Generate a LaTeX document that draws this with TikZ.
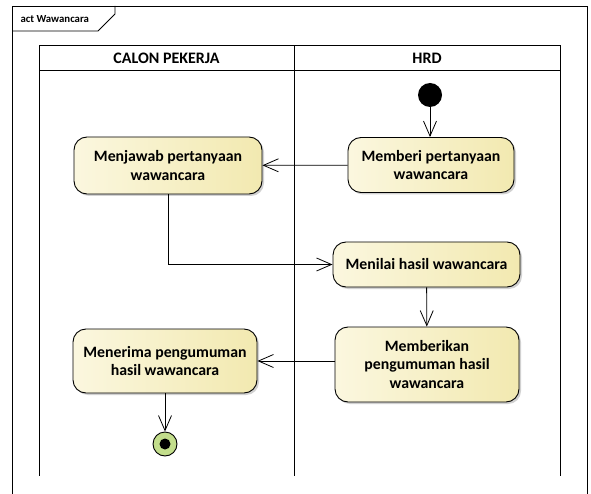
\documentclass[tikz,border=0pt]{standalone}
\usepackage{fontspec}
\setmainfont{Carlito}
\usetikzlibrary{arrows.meta,shadows}
\definecolor{actleft}{HTML}{FBF7DF}
\definecolor{actright}{HTML}{F2E9B0}
\definecolor{finalgreen}{HTML}{C3DE8C}
\tikzset{
  actbox/.style={draw=black, line width=0.9pt, rounded corners=13pt,
    left color=actleft, right color=actright,
    drop shadow={shadow xshift=2pt, shadow yshift=-2pt, fill=black, opacity=0.18},
    font=\fontsize{15.8}{18.5}\selectfont\bfseries, align=center, inner sep=0pt},
  flow/.style={draw=black, line width=0.8pt, -{Straight Barb[length=15pt,width=13pt,line width=0.8pt]}},
  laneline/.style={draw=black, line width=1pt},
  lanehead/.style={font=\fontsize{16}{19}\selectfont\bfseries}
}
\begin{document}
\begin{tikzpicture}[x=1pt,y=-1pt]
  \useasboundingbox (0,0) rectangle (591,494);
  \fill[white] (0,0) rectangle (591,494);

  % outer frame with its name tab
  \draw[line width=0.8pt] (12,494) -- (12,6) -- (587,6) -- (587,494);
  \draw[line width=0.8pt] (12,31) -- (98,31) -- (115,14) -- (115,6);
  \node[anchor=west, font=\fontsize{10.8}{13}\selectfont\bfseries] (framename) at (17,19) {act Wawancara};

  % swimlanes
  \draw[laneline] (39,46) rectangle (560,71);
  \draw[laneline] (39,71) -- (39,476);
  \draw[laneline] (294,46) -- (294,476);
  \draw[laneline] (560,71) -- (560,476);
  \node[lanehead] (laneA) at (166.5,58.5) {CALON PEKERJA};
  \node[lanehead] (laneB) at (427,58.5) {HRD};

  % initial and final nodes
  \node[circle, fill=black, minimum size=24pt, inner sep=0pt] (start) at (430,95) {};
  \node[circle, draw=black, line width=0.9pt, fill=finalgreen, minimum size=24pt, inner sep=0pt] (finish) at (165,444) {};
  \node[circle, fill=black, minimum size=11pt, inner sep=0pt] (finishdot) at (finish) {};

  % actions
  \node[actbox, minimum width=166pt, minimum height=55pt] (ask) at (431,165) {Memberi pertanyaan\\wawancara};
  \node[actbox, minimum width=188pt, minimum height=57pt] (answer) at (168,165.5) {Menjawab pertanyaan\\wawancara};
  \node[actbox, minimum width=187pt, minimum height=45pt] (assess) at (426.5,264.5) {Menilai hasil wawancara};
  \node[actbox, minimum width=184pt, minimum height=75pt] (announce) at (427,364.5) {Memberikan\\pengumuman hasil\\wawancara};
  \node[actbox, minimum width=184pt, minimum height=64pt] (receive) at (165,361) {Menerima pengumuman\\hasil wawancara};

  % control flows
  \draw[flow] (start) -- (ask.north -| start);
  \draw[flow] (ask) -- (answer);
  \draw[flow] (answer.south) |- (assess.west);
  \draw[flow] (assess) -- (announce);
  \draw[flow] (announce.west |- receive) -- (receive.east);
  \draw[flow] (receive) -- (finish);
\end{tikzpicture}
\end{document}
